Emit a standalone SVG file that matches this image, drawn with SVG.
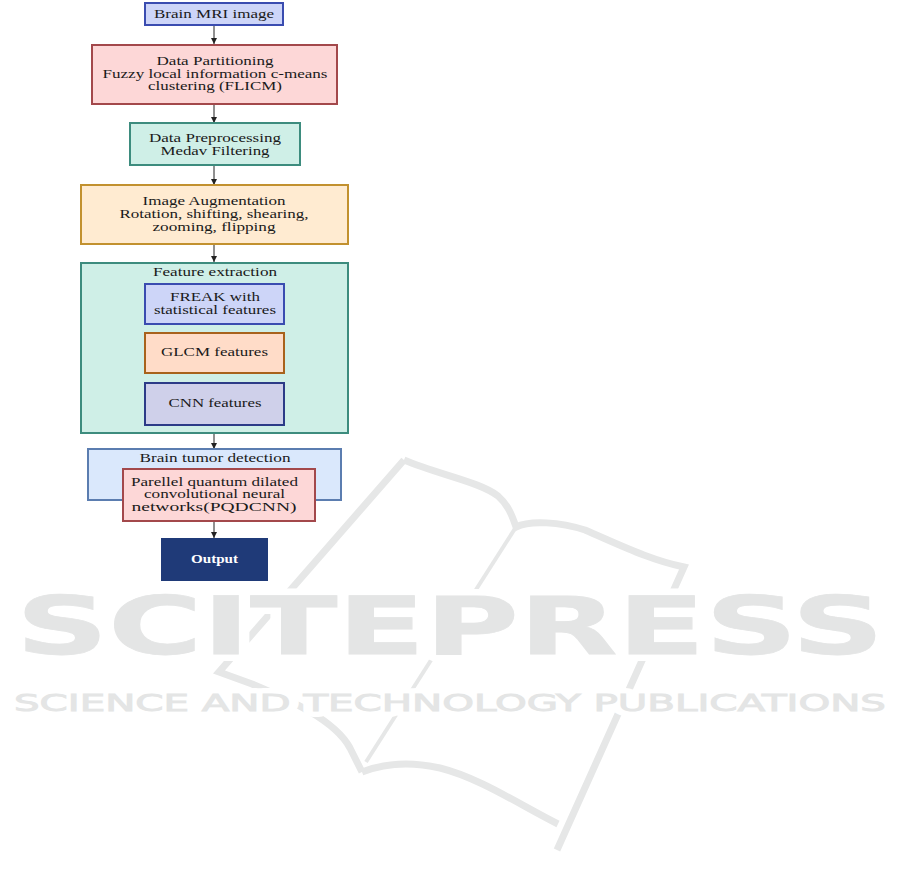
<svg xmlns="http://www.w3.org/2000/svg" width="901" height="886" viewBox="0 0 901 886">
<style>
.t{font-family:"Liberation Serif","Times New Roman",serif;font-size:12px;fill:#1a1a1a;text-anchor:middle}
.b{stroke-width:2}
.blue{fill:#cdd5f8;stroke:#3a4cb0}
.pink{fill:#fdd7d7;stroke:#a3484b}
.mint{fill:#cfefe7;stroke:#3d8c7e}
.peach{fill:#ffebd1;stroke:#c2912f}
.orange{fill:#ffdcc8;stroke:#a8621c}
.lav{fill:#cfd0ea;stroke:#2c3b87}
.lblue{fill:#dae8fc;stroke:#5b7db0}
.halo{fill:#fff;stroke:#fff;stroke-linejoin:round}
.wm{fill:#e4e5e5;stroke:#e4e5e5}
.bk{fill:none;stroke:#e6e7e7;stroke-linejoin:miter}
.c{stroke:#222;stroke-width:1;fill:none}
</style>
<defs>
<marker id="ah" markerUnits="userSpaceOnUse" markerWidth="7" markerHeight="6" refX="6" refY="3" orient="auto">
<path d="M0,0 L6,3 L0,6 z" fill="#222"/>
</marker>
</defs>
<rect width="901" height="886" fill="#fff"/>
<g id="watermark">
<path class="bk" stroke-width="7" d="M404,460 L219,672 L252,684 C290,700 335,720 350,748 L362,772"/>
<path class="bk" stroke-width="7" d="M362,772 C380,765 405,760 440,768 C480,778 520,805 558,824"/>
<path class="bk" stroke-width="7" d="M404,460 C440,475 480,482 498,496 C508,505 512,515 516,527 C530,520 560,522 585,530 C620,545 650,560 684,567 L557,850"/>
<path class="bk" stroke-width="4" d="M516,527 L366,762"/>
<text class="halo" x="16" y="654" font-family="DejaVu Sans, sans-serif" font-weight="bold" font-size="80" stroke-width="14" textLength="868" lengthAdjust="spacingAndGlyphs">SCITEPRESS</text>
<text class="halo" x="14" y="711" font-family="DejaVu Sans, sans-serif" font-size="23" stroke-width="12" textLength="872" lengthAdjust="spacingAndGlyphs">SCIENCE AND TECHNOLOGY PUBLICATIONS</text>
<text class="wm" x="16" y="654" font-family="DejaVu Sans, sans-serif" font-weight="bold" font-size="80" stroke-width="0.8" textLength="868" lengthAdjust="spacingAndGlyphs">SCITEPRESS</text>
<text class="wm" x="14" y="711" font-family="DejaVu Sans, sans-serif" font-size="23" stroke-width="0.9" textLength="872" lengthAdjust="spacingAndGlyphs">SCIENCE AND TECHNOLOGY PUBLICATIONS</text>
</g>
<g id="connectors">
<line class="c" x1="214" y1="25" x2="214" y2="44" marker-end="url(#ah)"/>
<line class="c" x1="214" y1="104" x2="214" y2="123" marker-end="url(#ah)"/>
<line class="c" x1="214" y1="165" x2="214" y2="185" marker-end="url(#ah)"/>
<line class="c" x1="214" y1="244" x2="214" y2="262" marker-end="url(#ah)"/>
<line class="c" x1="214" y1="433" x2="214" y2="449" marker-end="url(#ah)"/>
<line class="c" x1="214" y1="521" x2="214" y2="538" marker-end="url(#ah)"/>
</g>
<g id="n-mri">
<rect class="blue b" x="145" y="3" width="138" height="22"/>
<text class="t" x="214" y="17.5" textLength="120" lengthAdjust="spacingAndGlyphs">Brain MRI image</text>
</g>
<g id="n-partition">
<rect class="pink b" x="92" y="45" width="245" height="59"/>
<text class="t" x="215" y="65" textLength="117" lengthAdjust="spacingAndGlyphs">Data Partitioning</text>
<text class="t" x="215" y="77.5" textLength="225" lengthAdjust="spacingAndGlyphs">Fuzzy local information c-means</text>
<text class="t" x="215" y="90" textLength="134" lengthAdjust="spacingAndGlyphs">clustering (FLICM)</text>
</g>
<g id="n-preprocess">
<rect class="mint b" x="130" y="123" width="170" height="42"/>
<text class="t" x="215" y="142" textLength="132" lengthAdjust="spacingAndGlyphs">Data Preprocessing</text>
<text class="t" x="215" y="154.5" textLength="109" lengthAdjust="spacingAndGlyphs">Medav Filtering</text>
</g>
<g id="n-augment">
<rect class="peach b" x="81" y="185" width="267" height="59"/>
<text class="t" x="214" y="205" textLength="143" lengthAdjust="spacingAndGlyphs">Image Augmentation</text>
<text class="t" x="214" y="218" textLength="189" lengthAdjust="spacingAndGlyphs">Rotation, shifting, shearing,</text>
<text class="t" x="214" y="230.5" textLength="123" lengthAdjust="spacingAndGlyphs">zooming, flipping</text>
</g>
<g id="n-features">
<rect class="mint b" x="81" y="263" width="267" height="170"/>
<text class="t" x="215" y="275.5" textLength="124" lengthAdjust="spacingAndGlyphs">Feature extraction</text>
</g>
<g id="n-freak">
<rect class="blue b" x="145" y="284" width="139" height="40"/>
<text class="t" x="215" y="301" textLength="90" lengthAdjust="spacingAndGlyphs">FREAK with</text>
<text class="t" x="215" y="313.5" textLength="122" lengthAdjust="spacingAndGlyphs">statistical features</text>
</g>
<g id="n-glcm">
<rect class="orange b" x="145" y="333" width="139" height="40"/>
<text class="t" x="214.5" y="355.5" textLength="107" lengthAdjust="spacingAndGlyphs">GLCM features</text>
</g>
<g id="n-cnn">
<rect class="lav b" x="145" y="383" width="139" height="42"/>
<text class="t" x="215" y="406.5" textLength="93" lengthAdjust="spacingAndGlyphs">CNN features</text>
</g>
<g id="n-detection">
<rect class="lblue b" x="88" y="449" width="253" height="51"/>
<text class="t" x="215" y="462" textLength="151" lengthAdjust="spacingAndGlyphs">Brain tumor detection</text>
</g>
<g id="n-pqdcnn">
<rect class="pink b" x="123" y="469" width="192" height="52"/>
<text class="t" x="214.5" y="485.5" textLength="167" lengthAdjust="spacingAndGlyphs">Parellel quantum dilated</text>
<text class="t" x="214.5" y="498" textLength="141" lengthAdjust="spacingAndGlyphs">convolutional neural</text>
<text class="t" x="214" y="510.5" textLength="165" lengthAdjust="spacingAndGlyphs">networks(PQDCNN)</text>
</g>
<g id="n-output">
<rect x="161" y="538" width="107" height="43" fill="#1f3a78"/>
<text class="t" x="214.5" y="563" style="fill:#fff;font-weight:bold" textLength="47" lengthAdjust="spacingAndGlyphs">Output</text>
</g>
</svg>
